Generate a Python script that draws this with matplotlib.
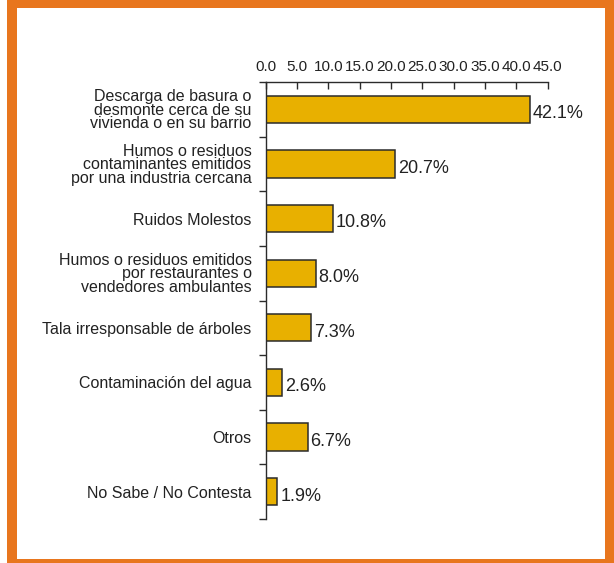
import matplotlib
matplotlib.use("Agg")
import matplotlib.pyplot as plt
from matplotlib.patches import Rectangle
import numpy as np

categories = [
    "Descarga de basura o\ndesmonte cerca de su\nvivienda o en su barrio",
    "Humos o residuos\ncontaminantes emitidos\npor una industria cercana",
    "Ruidos Molestos",
    "Humos o residuos emitidos\npor restaurantes o\nvendedores ambulantes",
    "Tala irresponsable de árboles",
    "Contaminación del agua",
    "Otros",
    "No Sabe / No Contesta",
]
values = [42.1, 20.7, 10.8, 8.0, 7.3, 2.6, 6.7, 1.9]
xticks = [0, 5, 10, 15, 20, 25, 30, 35, 40, 45]

plt.rcParams['font.family'] = ['Liberation Sans', 'DejaVu Sans']
W, H = 614, 563
fig = plt.figure(figsize=(W / 100, H / 100), dpi=100)
fig.patch.set_facecolor('white')

orange = '#E8761E'
fig.patches.append(Rectangle((7 / W, 0), 1 - 7 / W, 1, transform=fig.transFigure,
                             facecolor=orange, edgecolor='none', zorder=-10))
fig.patches.append(Rectangle((17 / W, 4 / H), (605 - 17) / W, (559 - 8) / H,
                             transform=fig.transFigure, facecolor='white',
                             edgecolor='none', zorder=-9))

left, right, top, bottom = 265.5, 547.7, 82, 519
ax = fig.add_axes([left / W, (H - bottom) / H, (right - left) / W, (bottom - top) / H])
ax.patch.set_alpha(0)
ax.set_zorder(1)

y = np.arange(len(categories))
bars = ax.barh(y, values, height=0.5, color='#E8B000', edgecolor='#2b2b2b', linewidth=1.1)
for yi, v in zip(y, values):
    ax.text(v + 0.45, yi + 0.08, f"{v:.1f}%", va='center', ha='left', fontsize=13, color='#222222')

ax.set_xlim(0, 45)
ax.set_ylim(len(categories) - 0.5, -0.5)
ax.xaxis.tick_top()
ax.set_xticks(xticks)
ax.set_xticklabels([f"{t:.1f}" for t in xticks], fontsize=11, color='#222222')
ax.tick_params(axis='x', direction='in', length=5, width=1, color='#2b2b2b', pad=6)

ax.set_yticks(y)
ax.set_yticklabels(categories, fontsize=11.5, color='#222222', linespacing=0.88)
ax.tick_params(axis='y', which='major', length=0, pad=10)
ax.set_yticks(np.arange(-0.5, len(categories)), minor=True)
ax.tick_params(axis='y', which='minor', length=5, width=1, color='#2b2b2b', direction='out')

for s in ['right', 'bottom']:
    ax.spines[s].set_visible(False)
for s in ['top', 'left']:
    ax.spines[s].set_color('#2b2b2b')
    ax.spines[s].set_linewidth(1)

fig.savefig('out.png', dpi=100)
